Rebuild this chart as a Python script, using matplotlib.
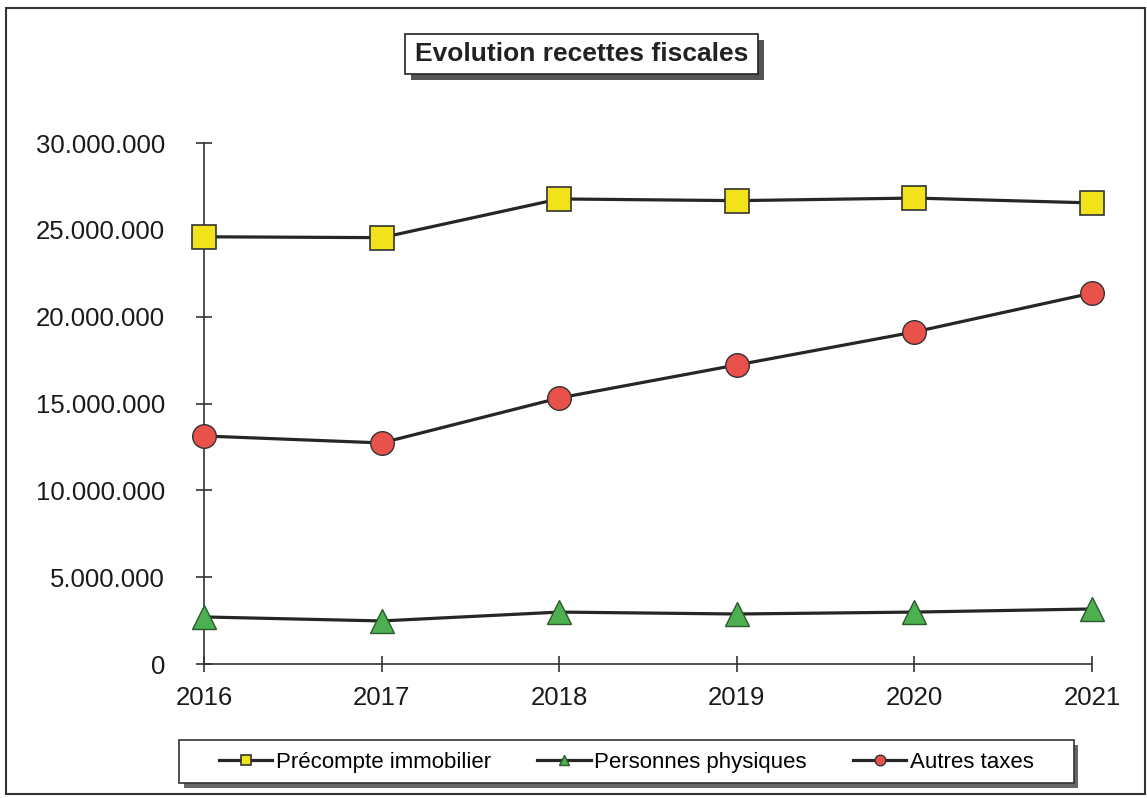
import matplotlib.pyplot as plt
from matplotlib.patches import Rectangle
from matplotlib.ticker import FuncFormatter

plt.rcParams['font.family'] = ['Liberation Sans', 'DejaVu Sans']

years = [2016, 2017, 2018, 2019, 2020, 2021]
precompte = [24600000, 24550000, 26780000, 26680000, 26830000, 26550000]
personnes = [2710000, 2480000, 2990000, 2880000, 2990000, 3170000]
autres = [13130000, 12730000, 15320000, 17220000, 19120000, 21360000]

fig = plt.figure(figsize=(11.47, 7.98), dpi=100)
ax = fig.add_axes([0.1779, 0.1679, 0.7742, 0.6529])

ax.plot(years, precompte, color='#262626', lw=2.3, marker='s', ms=17,
        mfc='#f2e21a', mec='#333333', mew=1.2, label='Précompte immobilier', clip_on=False, zorder=3)
ax.plot(years, personnes, color='#262626', lw=2.3, marker='^', ms=17,
        mfc='#4caf50', mec='#2d5a2d', mew=1.0, label='Personnes physiques', clip_on=False, zorder=3)
ax.plot(years, autres, color='#262626', lw=2.3, marker='o', ms=17,
        mfc='#e8524a', mec='#333333', mew=1.0, label='Autres taxes', clip_on=False, zorder=3)

ax.set_xlim(2016, 2021)
ax.set_ylim(0, 30000000)
ax.set_xticks(years)
ax.set_yticks(range(0, 30000001, 5000000))
ax.yaxis.set_major_formatter(FuncFormatter(lambda v, p: '0' if v == 0 else f'{int(v):,}'.replace(',', '.')))
for s in ['top', 'right']:
    ax.spines[s].set_visible(False)
for s in ['left', 'bottom']:
    ax.spines[s].set_color('#333333')
    ax.spines[s].set_linewidth(1.2)
ax.tick_params(direction='inout', length=12, width=1.2, color='#333333', labelsize=18.5, labelcolor='#1a1a1a')
ax.tick_params(axis='x', pad=10)
ax.tick_params(axis='y', pad=22)

# outer frame
fig.patches.append(Rectangle((0.005, 0.005), 0.993, 0.985, transform=fig.transFigure,
                             fill=False, ec='#333333', lw=1.5))

# title box with shadow
fig.patches.append(Rectangle((0.358, 0.900), 0.308, 0.05, transform=fig.transFigure,
                             fc='#555555', ec='none'))
fig.patches.append(Rectangle((0.353, 0.907), 0.308, 0.05, transform=fig.transFigure,
                             fc='white', ec='#222222', lw=1.2))
fig.text(0.507, 0.932, 'Evolution recettes fiscales', ha='center', va='center',
         fontsize=19, fontweight='bold', color='#222222')

# legend box with shadow
fig.patches.append(Rectangle((0.160, 0.013), 0.78, 0.054, transform=fig.transFigure,
                             fc='#666666', ec='none'))
fig.patches.append(Rectangle((0.156, 0.019), 0.78, 0.054, transform=fig.transFigure,
                             fc='white', ec='#333333', lw=1.2))
leg = fig.legend(loc='center', bbox_to_anchor=(0.546, 0.045), ncol=3, frameon=False,
                 fontsize=16, markerscale=0.45, handlelength=2.4, columnspacing=2.1,
                 handletextpad=0.15)

fig.savefig('out.png', dpi=100)
